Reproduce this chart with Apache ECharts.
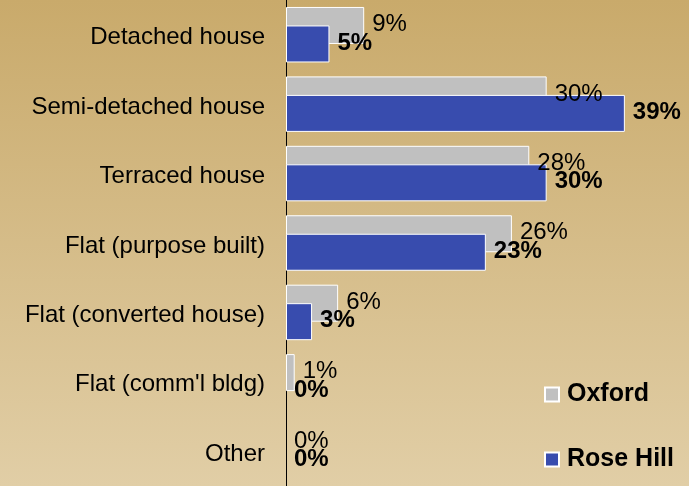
<!DOCTYPE html>
<html>
<head>
<meta charset="utf-8">
<script src="https://cdn.jsdelivr.net/npm/echarts@6/dist/echarts.min.js"></script>
<style>
  html, body { margin: 0; padding: 0; }
  #chart { width: 689px; height: 486px; }
</style>
</head>
<body>
<div id="chart"></div>
<script>
const categories = [
  "Detached house",
  "Semi-detached house",
  "Terraced house",
  "Flat (purpose built)",
  "Flat (converted house)",
  "Flat (comm'l bldg)",
  "Other",
];
const oxford = [9, 30, 28, 26, 6, 1, 0];
const roseHill = [5, 39, 30, 23, 3, 0, 0];

const font = "'Liberation Sans', Arial, sans-serif";

const chart = echarts.init(document.getElementById("chart"));

// zero-width bars should not leave a border line behind
const toData = (arr) =>
  arr.map((v) => (v === 0 ? { value: v, itemStyle: { borderWidth: 0 } } : v));

chart.setOption({
  backgroundColor: {
    type: "linear",
    x: 0, y: 0, x2: 0, y2: 1,
    colorStops: [
      { offset: 0, color: "#c9aa6b" },
      { offset: 1, color: "#e1cea6" },
    ],
  },
  textStyle: { fontFamily: font },
  grid: { left: 286, right: 12, top: 0, bottom: -4, containLabel: false },
  legend: {
    orient: "vertical",
    left: 544,
    top: 382,
    padding: 0,
    itemGap: 40,
    itemWidth: 14,
    itemHeight: 14,
    icon: "rect",
    data: ["Oxford", "Rose Hill"],
    textStyle: {
      fontSize: 25,
      fontWeight: "bold",
      color: "#000",
      fontFamily: font,
      padding: [0, 0, 0, 3],
    },
  },
  xAxis: {
    type: "value",
    min: 0,
    max: 45,
    show: false,
  },
  yAxis: {
    type: "category",
    inverse: true,
    data: categories,
    axisLine: { show: true, lineStyle: { color: "#000", width: 1 } },
    axisTick: { show: false },
    axisLabel: {
      margin: 21,
      formatter: (v) => "{a|" + v + "}",
      rich: {
        a: {
          fontSize: 24,
          color: "#000",
          fontFamily: font,
          padding: [6, 0, 0, 0],
        },
      },
    },
  },
  series: [
    {
      name: "Oxford",
      type: "bar",
      data: toData(oxford),
      barWidth: 37,
      barGap: "-50%",
      itemStyle: { color: "#c0c0c0", borderColor: "#ffffff", borderWidth: 1 },
      label: {
        show: true,
        position: "right",
        distance: 8,
        offset: [0, -1],
        formatter: "{c}%",
        fontSize: 24,
        color: "#000",
        fontFamily: font,
      },
    },
    {
      name: "Rose Hill",
      type: "bar",
      data: toData(roseHill),
      barWidth: 37,
      itemStyle: { color: "#384cae", borderColor: "#ffffff", borderWidth: 1 },
      label: {
        show: true,
        position: "right",
        distance: 8,
        offset: [0, -1],
        formatter: "{c}%",
        fontSize: 24,
        fontWeight: "bold",
        color: "#000",
        fontFamily: font,
      },
    },
  ],
});
</script>
</body>
</html>
